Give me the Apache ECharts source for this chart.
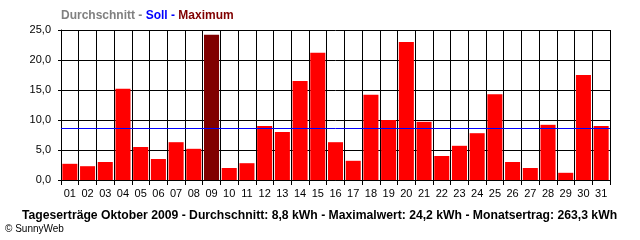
<!DOCTYPE html>
<html><head><meta charset="utf-8">
<script src="https://cdn.jsdelivr.net/npm/echarts@6/dist/echarts.min.js"></script>
<style>html,body{margin:0;padding:0;background:#fff}#c{width:640px;height:240px}</style>
</head><body><div id="c"></div>
<script>
const days = ['01','02','03','04','05','06','07','08','09','10','11','12','13','14','15','16','17','18','19','20','21','22','23','24','25','26','27','28','29','30','31'];
const yields = [2.7,2.3,3.0,15.2,5.5,3.5,6.3,5.2,24.2,2.0,2.8,9.0,8.0,16.5,21.2,6.3,3.2,14.2,10.0,23.0,9.7,4.0,5.7,7.8,14.3,3.0,2.0,9.2,1.2,17.5,9.0];
const sollValue = 8.6;
const yTicks = [0,5,10,15,20,25];
const footerText = 'Tageserträge Oktober 2009 - Durchschnitt: 8,8 kWh - Maximalwert: 24,2 kWh - Monatsertrag: 263,3 kWh';

const maxVal = Math.max(...yields);
const font = '"Liberation Sans", Arial, sans-serif';
const chart = echarts.init(document.getElementById('c'));
chart.setOption({
  animation: false,
  backgroundColor: '#fff',
  title: [
    {
      text: '{g|Durchschnitt - }{b|Soll - }{m|Maximum}',
      left: 61, top: 10, padding: 0,
      textStyle: {
        rich: {
          g: {color: '#808080', fontWeight: 'bold', fontSize: 12, fontFamily: font},
          b: {color: '#0000ff', fontWeight: 'bold', fontSize: 12, fontFamily: font},
          m: {color: '#800000', fontWeight: 'bold', fontSize: 12, fontFamily: font}
        }
      }
    },
    {
      text: footerText, left: 22, top: 210, padding: 0,
      textStyle: {color: '#000', fontWeight: 'bold', fontSize: 12.2, fontFamily: font}
    },
    {
      text: '© SunnyWeb', left: 5, top: 224, padding: 0,
      textStyle: {color: '#000', fontWeight: 'normal', fontSize: 10, fontFamily: font}
    }
  ],
  grid: {left: 61, right: 30, top: 30, bottom: 60, containLabel: false},
  xAxis: {
    type: 'category', data: days, boundaryGap: true,
    axisLine: {show: true, lineStyle: {color: '#000', width: 1}},
    axisTick: {show: true, length: 5, lineStyle: {color: '#000'}},
    axisLabel: {color: '#000', fontSize: 11, fontFamily: font, margin: 8, interval: 0},
    splitLine: {show: true, lineStyle: {color: '#000', width: 1}}
  },
  yAxis: {
    type: 'value', min: yTicks[0], max: yTicks[yTicks.length - 1], interval: 5,
    axisLine: {show: true, lineStyle: {color: '#000', width: 1}},
    axisTick: {show: true, length: 3, lineStyle: {color: '#000'}},
    axisLabel: {color: '#000', fontSize: 11, fontFamily: font, margin: 10,
      formatter: v => v.toFixed(1).replace('.', ',')},
    splitLine: {show: true, lineStyle: {color: '#000', width: 1}}
  },
  series: [{
    type: 'bar',
    data: yields.map(v => ({value: v, itemStyle: {color: v === maxVal ? '#800000' : '#ff0000'}})),
    barCategoryGap: '15%',
    markLine: {
      silent: true, symbol: 'none', label: {show: false},
      lineStyle: {color: '#0000ff', width: 1, type: 'solid'},
      data: [{yAxis: sollValue}]
    }
  }]
});
</script></body></html>
